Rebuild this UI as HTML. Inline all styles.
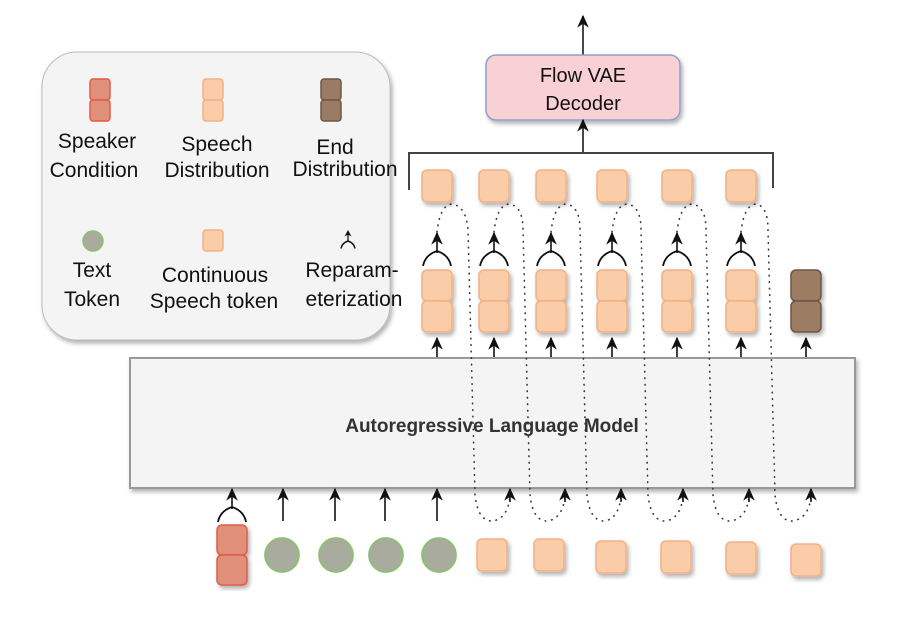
<!DOCTYPE html>
<html><head><meta charset="utf-8"><style>
body{margin:0;background:#fff;}
svg{display:block;font-family:"Liberation Sans",sans-serif;}
</style></head><body>
<svg width="900" height="622" viewBox="0 0 900 622" xmlns="http://www.w3.org/2000/svg">
<defs>
<filter id="sh" x="-20%" y="-20%" width="140%" height="140%"><feDropShadow dx="2" dy="3" stdDeviation="2" flood-color="#000" flood-opacity="0.3"/></filter>
<marker id="ah" viewBox="0 0 10 10" refX="9" refY="5" markerWidth="13" markerHeight="13" markerUnits="userSpaceOnUse" orient="auto"><path d="M0,0.5 L10,5 L0,9.5 L3,5 z" fill="#111"/></marker>
<g id="sq"><rect x="-15" y="-16" width="30" height="32" rx="5" fill="#fbcca8" stroke="#f1b287" stroke-width="1.5" filter="url(#sh)"/></g>
<g id="dsq"><rect x="-15" y="-31" width="30" height="31" rx="5" fill="#fbcca8" stroke="#f1b287" stroke-width="1.5" filter="url(#sh)"/><rect x="-15" y="0" width="30" height="31" rx="5" fill="#fbcca8" stroke="#f1b287" stroke-width="1.5" filter="url(#sh)"/></g>
<g id="rep"><line x1="0" y1="20" x2="0" y2="0" stroke="#111" stroke-width="1.6" marker-end="url(#ah)"/><path d="M-14,33 Q-12,22 0,18 Q12,22 14,33" fill="none" stroke="#111" stroke-width="1.8"/></g>
</defs>

<!-- legend -->
<rect x="42" y="52" width="348" height="288" rx="35" fill="#f4f4f4" stroke="#bbb" stroke-width="1" filter="url(#sh)"/>
<rect x="90" y="79" width="20" height="21" rx="3" fill="#e0907a" stroke="#e05c4a" stroke-width="1.5"/>
<rect x="90" y="100" width="20" height="21" rx="3" fill="#e0907a" stroke="#e05c4a" stroke-width="1.5"/>
<rect x="203" y="79" width="20" height="21" rx="3" fill="#fbcca8" stroke="#f1b287" stroke-width="1.5"/>
<rect x="203" y="100" width="20" height="21" rx="3" fill="#fbcca8" stroke="#f1b287" stroke-width="1.5"/>
<rect x="321" y="79" width="20" height="21" rx="3" fill="#9c7b64" stroke="#6e5646" stroke-width="1.5"/>
<rect x="321" y="100" width="20" height="21" rx="3" fill="#9c7b64" stroke="#6e5646" stroke-width="1.5"/>
<g font-size="21" fill="#111" text-anchor="middle">
<text x="97" y="148">Speaker</text><text x="94" y="177">Condition</text>
<text x="217" y="151">Speech</text><text x="217" y="177">Distribution</text>
<text x="335" y="154">End</text><text x="345" y="176">Distribution</text>
<text x="92" y="277">Text</text><text x="92" y="306">Token</text>
<text x="215" y="282">Continuous</text><text x="214" y="308">Speech token</text>
<text x="352" y="277">Reparam-</text><text x="354" y="306">eterization</text>
</g>
<circle cx="93" cy="241" r="10" fill="#a8ab9e" stroke="#8bc26f" stroke-width="1.5"/>
<rect x="203" y="230" width="20" height="21" rx="3" fill="#fbcca8" stroke="#f1b287" stroke-width="1.5"/>
<g transform="translate(348,232) scale(0.5)"><line x1="0" y1="20" x2="0" y2="0" stroke="#111" stroke-width="2.5"/><path d="M-7,9 L0,-4 L7,9 L0,5 z" fill="#111"/><path d="M-14,33 Q-12,22 0,18 Q12,22 14,33" fill="none" stroke="#111" stroke-width="3"/></g>

<!-- flow vae -->
<line x1="583" y1="55" x2="583" y2="16" stroke="#333" stroke-width="1.8" marker-end="url(#ah)"/>
<rect x="486" y="55" width="194" height="65" rx="10" fill="#f9d0d4" stroke="#8fa0cc" stroke-width="1.5" filter="url(#sh)"/>
<text x="583" y="82" font-size="20" text-anchor="middle" fill="#111">Flow VAE</text>
<text x="583" y="110" font-size="20" text-anchor="middle" fill="#111">Decoder</text>
<line x1="583" y1="153" x2="583" y2="120" stroke="#333" stroke-width="1.8" marker-end="url(#ah)"/>
<path d="M409,190 L409,153 L773,153 L773,188" fill="none" stroke="#444" stroke-width="2"/>

<!-- LM -->
<rect x="130" y="358" width="725" height="130" fill="#f4f4f4" stroke="#999" stroke-width="2" filter="url(#sh)"/>
<text x="492" y="432" font-size="19" font-weight="bold" text-anchor="middle" fill="#333">Autoregressive Language Model</text>

<!-- dotted loops -->
<g fill="none" stroke="#333" stroke-width="1.6" stroke-dasharray="0.5 6" stroke-linecap="round">
<path d="M437,232 Q440,205 452,204 Q466,206 468,230 L475,495 Q478,522 493,521 Q508,518 510,496"/>
<path d="M494,232 Q497,205 509,204 Q523,206 523,230 L530,495 Q533,522 548,521 Q563,518 565,496"/>
<path d="M551,232 Q554,205 566,204 Q580,206 580,230 L587,495 Q590,522 605,521 Q619,518 621,496"/>
<path d="M612,232 Q615,205 627,204 Q641,206 641,230 L648,495 Q651,522 666,521 Q681,518 683,496"/>
<path d="M677,232 Q680,205 692,204 Q706,206 706,230 L713,495 Q716,522 731,521 Q747,518 749,496"/>
<path d="M741,232 Q744,205 756,204 Q768,206 768,230 L775,495 Q778,522 793,521 Q809,518 811,496"/>
</g>

<!-- top squares -->
<g>
<use href="#sq" x="437" y="186"/><use href="#sq" x="494" y="186"/><use href="#sq" x="551" y="186"/>
<use href="#sq" x="612" y="186"/><use href="#sq" x="677" y="186"/><use href="#sq" x="741" y="186"/>
</g>
<!-- reparam -->
<use href="#rep" x="437" y="233"/><use href="#rep" x="494" y="233"/><use href="#rep" x="551" y="233"/>
<use href="#rep" x="612" y="233"/><use href="#rep" x="677" y="233"/><use href="#rep" x="741" y="233"/>
<!-- double squares -->
<use href="#dsq" x="437" y="301"/><use href="#dsq" x="494" y="301"/><use href="#dsq" x="551" y="301"/>
<use href="#dsq" x="612" y="301"/><use href="#dsq" x="677" y="301"/><use href="#dsq" x="741" y="301"/>
<rect x="791" y="270" width="30" height="31" rx="5" fill="#9c7b64" stroke="#6e5646" stroke-width="1.5" filter="url(#sh)"/>
<rect x="791" y="301" width="30" height="31" rx="5" fill="#9c7b64" stroke="#6e5646" stroke-width="1.5" filter="url(#sh)"/>
<!-- arrows LM to outputs -->
<g stroke="#111" stroke-width="1.6" marker-end="url(#ah)">
<line x1="437" y1="357" x2="437" y2="338"/><line x1="494" y1="357" x2="494" y2="338"/><line x1="551" y1="357" x2="551" y2="338"/>
<line x1="612" y1="357" x2="612" y2="338"/><line x1="677" y1="357" x2="677" y2="338"/><line x1="741" y1="357" x2="741" y2="338"/>
<line x1="806" y1="357" x2="806" y2="338"/>
</g>
<!-- bottom arrows -->
<g stroke="#111" stroke-width="1.6" marker-end="url(#ah)">
<line x1="283" y1="521" x2="283" y2="489"/><line x1="335" y1="521" x2="335" y2="489"/>
<line x1="385" y1="521" x2="385" y2="489"/><line x1="437" y1="521" x2="437" y2="489"/>
<line x1="510" y1="502" x2="510" y2="489"/><line x1="565" y1="502" x2="565" y2="489"/><line x1="621" y1="502" x2="621" y2="489"/>
<line x1="683" y1="502" x2="683" y2="489"/><line x1="749" y1="502" x2="749" y2="489"/><line x1="811" y1="502" x2="811" y2="489"/>
</g>
<use href="#rep" x="232" y="489"/>
<!-- bottom tokens -->
<rect x="217" y="525" width="30" height="30" rx="5" fill="#e0907a" stroke="#e05c4a" stroke-width="1.5" filter="url(#sh)"/>
<rect x="217" y="555" width="30" height="30" rx="5" fill="#e0907a" stroke="#e05c4a" stroke-width="1.5" filter="url(#sh)"/>
<g fill="#a8ab9e" stroke="#8bc26f" stroke-width="1.8">
<circle cx="282" cy="555" r="17"/><circle cx="336" cy="555" r="17"/><circle cx="386" cy="555" r="17"/><circle cx="439" cy="555" r="17"/>
</g>
<use href="#sq" x="492" y="555"/><use href="#sq" x="549" y="555"/><use href="#sq" x="611" y="557"/>
<use href="#sq" x="676" y="557"/><use href="#sq" x="741" y="558"/><use href="#sq" x="806" y="560"/>
</svg>
</body></html>
